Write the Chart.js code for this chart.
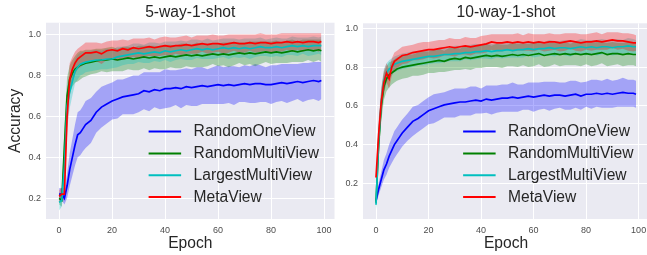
<!DOCTYPE html>
<html>
<head>
<meta charset="utf-8">
<script src="https://cdn.jsdelivr.net/npm/chart.js@4.4.0/dist/chart.umd.min.js"></script>
<style>
  html, body { margin: 0; padding: 0; background: #fff; overflow: hidden; }
  #wrap { position: relative; width: 647px; height: 255px; overflow: hidden; }
  canvas { position: absolute; top: 0; }
  #left { left: 0; }
  #right { left: 340px; }
</style>
</head>
<body>
<div id="wrap">
  <canvas id="left" width="340" height="255"></canvas>
  <canvas id="right" width="320" height="255"></canvas>
</div>
<script>
const EPOCHS = [0, 1, 2, 3, 4, 5, 6, 7, 8, 9, 10,
  12, 14, 16, 18, 20, 22, 24, 26, 28, 30,
  32, 34, 36, 38, 40, 42, 44, 46, 48, 50,
  52, 54, 56, 58, 60, 62, 64, 66, 68, 70,
  72, 74, 76, 78, 80, 82, 84, 86, 88, 90,
  92, 94, 96, 98, 99];
const SERIES_LABELS = ['RandomOneView', 'RandomMultiView', 'LargestMultiView', 'MetaView'];
const X_TICKS = [0, 20, 40, 60, 80, 100];
const Y_TICKS = [0.2, 0.4, 0.6, 0.8, 1.0];

// 5-way-1-shot: mean accuracy per epoch and half-width of the shaded band
const W5_ONE = [0.22, 0.22, 0.20, 0.26, 0.34, 0.40, 0.46, 0.51, 0.52, 0.54, 0.56,
  0.58, 0.62, 0.645, 0.66, 0.675, 0.685, 0.695, 0.70, 0.705, 0.71,
  0.725, 0.72, 0.73, 0.725, 0.735, 0.735, 0.74, 0.735, 0.745, 0.74,
  0.745, 0.75, 0.745, 0.75, 0.755, 0.75, 0.755, 0.75, 0.755, 0.76,
  0.755, 0.76, 0.76, 0.755, 0.755, 0.76, 0.765, 0.76, 0.765, 0.77,
  0.765, 0.77, 0.775, 0.77, 0.775];
const W5_ONE_SD = [0.03, 0.03, 0.03, 0.06, 0.08, 0.09, 0.10, 0.11, 0.11, 0.11, 0.115,
  0.11, 0.10, 0.10, 0.095, 0.09, 0.095, 0.085, 0.09, 0.095, 0.09,
  0.09, 0.095, 0.085, 0.09, 0.095, 0.09, 0.085, 0.095, 0.09, 0.09,
  0.095, 0.09, 0.085, 0.09, 0.095, 0.09, 0.09, 0.095, 0.085, 0.09,
  0.09, 0.095, 0.09, 0.085, 0.095, 0.09, 0.09, 0.095, 0.09, 0.085,
  0.095, 0.09, 0.09, 0.095, 0.09];
const W5_MULTI = [0.20, 0.19, 0.45, 0.70, 0.78, 0.81, 0.83, 0.84, 0.85, 0.855, 0.86,
  0.865, 0.87, 0.875, 0.875, 0.88, 0.875, 0.88, 0.885, 0.88, 0.885,
  0.89, 0.885, 0.89, 0.885, 0.89, 0.895, 0.89, 0.895, 0.90, 0.895,
  0.90, 0.895, 0.90, 0.905, 0.90, 0.905, 0.90, 0.905, 0.91, 0.905,
  0.91, 0.905, 0.91, 0.915, 0.91, 0.915, 0.91, 0.915, 0.92, 0.915,
  0.92, 0.925, 0.92, 0.925, 0.92];
const W5_MULTI_SD = [0.03, 0.03, 0.10, 0.09, 0.07, 0.065, 0.065, 0.07, 0.07, 0.065, 0.065,
  0.06, 0.06, 0.055, 0.06, 0.06, 0.055, 0.06, 0.055, 0.055, 0.06,
  0.055, 0.06, 0.055, 0.055, 0.06, 0.055, 0.055, 0.06, 0.055, 0.055,
  0.06, 0.055, 0.055, 0.05, 0.055, 0.055, 0.06, 0.055, 0.05, 0.055,
  0.055, 0.06, 0.055, 0.05, 0.055, 0.055, 0.05, 0.055, 0.055, 0.05,
  0.055, 0.05, 0.055, 0.05, 0.055];
const W5_LARGE = [0.18, 0.19, 0.35, 0.65, 0.72, 0.77, 0.82, 0.84, 0.855, 0.86, 0.865,
  0.87, 0.875, 0.875, 0.88, 0.88, 0.89, 0.895, 0.90, 0.905, 0.91,
  0.905, 0.91, 0.915, 0.91, 0.92, 0.915, 0.92, 0.925, 0.92, 0.925,
  0.93, 0.925, 0.93, 0.925, 0.93, 0.935, 0.93, 0.935, 0.93, 0.935,
  0.93, 0.935, 0.94, 0.935, 0.935, 0.94, 0.935, 0.94, 0.945, 0.94,
  0.945, 0.94, 0.945, 0.945, 0.945];
const W5_LARGE_SD = [0.04, 0.03, 0.10, 0.10, 0.08, 0.07, 0.06, 0.06, 0.055, 0.055, 0.05,
  0.05, 0.05, 0.045, 0.05, 0.045, 0.05, 0.045, 0.045, 0.05, 0.045,
  0.045, 0.05, 0.045, 0.045, 0.045, 0.05, 0.045, 0.045, 0.045, 0.05,
  0.045, 0.045, 0.05, 0.045, 0.045, 0.045, 0.05, 0.045, 0.045, 0.045,
  0.05, 0.045, 0.045, 0.04, 0.045, 0.045, 0.045, 0.04, 0.045, 0.045,
  0.04, 0.045, 0.045, 0.04, 0.045];
const W5_META = [0.21, 0.22, 0.22, 0.60, 0.78, 0.83, 0.86, 0.88, 0.89, 0.90, 0.91,
  0.91, 0.915, 0.905, 0.92, 0.925, 0.92, 0.93, 0.925, 0.935, 0.93,
  0.935, 0.94, 0.935, 0.94, 0.945, 0.94, 0.945, 0.945, 0.95, 0.945,
  0.95, 0.955, 0.95, 0.955, 0.955, 0.95, 0.955, 0.96, 0.955, 0.955,
  0.96, 0.955, 0.96, 0.96, 0.955, 0.96, 0.96, 0.965, 0.96, 0.965,
  0.96, 0.965, 0.965, 0.96, 0.965];
const W5_META_SD = [0.03, 0.03, 0.03, 0.10, 0.08, 0.06, 0.055, 0.05, 0.05, 0.05, 0.05,
  0.05, 0.045, 0.05, 0.045, 0.045, 0.05, 0.045, 0.045, 0.045, 0.05,
  0.045, 0.045, 0.04, 0.045, 0.045, 0.045, 0.04, 0.045, 0.045, 0.04,
  0.045, 0.04, 0.045, 0.045, 0.04, 0.045, 0.045, 0.04, 0.045, 0.045,
  0.04, 0.045, 0.045, 0.04, 0.045, 0.04, 0.045, 0.04, 0.045, 0.04,
  0.045, 0.04, 0.04, 0.045, 0.04];

// 10-way-1-shot
const W10_ONE = [0.11, 0.17, 0.22, 0.27, 0.30, 0.34, 0.37, 0.40, 0.42, 0.44, 0.46,
  0.49, 0.52, 0.535, 0.555, 0.575, 0.585, 0.595, 0.605, 0.61, 0.615,
  0.62, 0.62, 0.625, 0.63, 0.625, 0.635, 0.63, 0.635, 0.64, 0.64,
  0.645, 0.64, 0.645, 0.65, 0.645, 0.65, 0.655, 0.65, 0.655, 0.655,
  0.65, 0.655, 0.66, 0.65, 0.66, 0.66, 0.665, 0.66, 0.665, 0.66,
  0.665, 0.67, 0.665, 0.665, 0.66];
const W10_ONE_SD = [0.02, 0.03, 0.04, 0.05, 0.055, 0.06, 0.065, 0.07, 0.07, 0.07, 0.07,
  0.07, 0.075, 0.07, 0.07, 0.07, 0.075, 0.07, 0.065, 0.07, 0.075,
  0.07, 0.07, 0.075, 0.07, 0.065, 0.07, 0.075, 0.07, 0.07, 0.07,
  0.075, 0.07, 0.065, 0.07, 0.075, 0.07, 0.07, 0.075, 0.07, 0.065,
  0.07, 0.075, 0.07, 0.07, 0.065, 0.075, 0.07, 0.07, 0.075, 0.07,
  0.07, 0.075, 0.07, 0.07, 0.07];
const W10_MULTI = [0.10, 0.40, 0.60, 0.70, 0.74, 0.76, 0.77, 0.78, 0.79, 0.795, 0.80,
  0.805, 0.81, 0.815, 0.82, 0.825, 0.83, 0.835, 0.83, 0.84, 0.845,
  0.84, 0.85, 0.845, 0.85, 0.855, 0.86, 0.855, 0.86, 0.855, 0.86,
  0.865, 0.86, 0.865, 0.86, 0.865, 0.87, 0.86, 0.865, 0.87, 0.865,
  0.87, 0.865, 0.87, 0.865, 0.87, 0.865, 0.87, 0.875, 0.865, 0.87,
  0.87, 0.865, 0.87, 0.865, 0.865];
const W10_MULTI_SD = [0.03, 0.08, 0.08, 0.07, 0.065, 0.065, 0.06, 0.06, 0.06, 0.06, 0.06,
  0.06, 0.055, 0.06, 0.06, 0.055, 0.06, 0.06, 0.055, 0.06, 0.06,
  0.055, 0.06, 0.06, 0.055, 0.06, 0.06, 0.055, 0.06, 0.06, 0.055,
  0.06, 0.06, 0.055, 0.06, 0.06, 0.055, 0.06, 0.06, 0.055, 0.06,
  0.06, 0.055, 0.06, 0.06, 0.055, 0.06, 0.06, 0.055, 0.06, 0.06,
  0.055, 0.06, 0.06, 0.055, 0.06];
const W10_LARGE = [0.09, 0.42, 0.62, 0.73, 0.77, 0.79, 0.80, 0.815, 0.82, 0.825, 0.83,
  0.835, 0.84, 0.845, 0.85, 0.855, 0.855, 0.86, 0.865, 0.865, 0.87,
  0.87, 0.875, 0.875, 0.88, 0.88, 0.885, 0.88, 0.885, 0.885, 0.89,
  0.885, 0.89, 0.89, 0.895, 0.89, 0.895, 0.895, 0.90, 0.895, 0.90,
  0.90, 0.895, 0.90, 0.905, 0.90, 0.905, 0.90, 0.905, 0.905, 0.90,
  0.905, 0.905, 0.91, 0.905, 0.905];
const W10_LARGE_SD = [0.03, 0.08, 0.07, 0.06, 0.05, 0.045, 0.045, 0.04, 0.04, 0.04, 0.04,
  0.04, 0.04, 0.035, 0.04, 0.04, 0.035, 0.04, 0.04, 0.035, 0.04,
  0.04, 0.035, 0.04, 0.04, 0.035, 0.04, 0.04, 0.035, 0.04, 0.04,
  0.035, 0.04, 0.04, 0.035, 0.04, 0.04, 0.035, 0.04, 0.04, 0.035,
  0.04, 0.04, 0.035, 0.04, 0.04, 0.035, 0.04, 0.04, 0.035, 0.04,
  0.04, 0.035, 0.04, 0.04, 0.035];
const W10_META = [0.23, 0.45, 0.62, 0.72, 0.77, 0.74, 0.80, 0.83, 0.84, 0.85, 0.86,
  0.865, 0.875, 0.88, 0.885, 0.89, 0.89, 0.895, 0.90, 0.905, 0.90,
  0.905, 0.91, 0.905, 0.91, 0.915, 0.92, 0.93, 0.925, 0.925, 0.93,
  0.925, 0.93, 0.925, 0.93, 0.925, 0.93, 0.925, 0.93, 0.93, 0.925,
  0.93, 0.935, 0.93, 0.925, 0.93, 0.93, 0.935, 0.93, 0.935, 0.94,
  0.935, 0.935, 0.93, 0.925, 0.925];
const W10_META_SD = [0.03, 0.08, 0.07, 0.06, 0.05, 0.05, 0.045, 0.045, 0.045, 0.045, 0.045,
  0.045, 0.04, 0.045, 0.045, 0.04, 0.045, 0.045, 0.04, 0.045, 0.045,
  0.04, 0.045, 0.045, 0.04, 0.045, 0.045, 0.04, 0.045, 0.045, 0.04,
  0.045, 0.045, 0.04, 0.045, 0.045, 0.04, 0.045, 0.045, 0.04, 0.045,
  0.045, 0.04, 0.045, 0.045, 0.04, 0.045, 0.045, 0.04, 0.045, 0.04,
  0.045, 0.04, 0.045, 0.045, 0.04];

const LINE_COLORS = ['#0000ff', '#008000', '#00bfbf', '#ff0000'];
const BAND_COLORS = ['rgba(0,0,255,0.3)', 'rgba(0,128,0,0.3)', 'rgba(0,191,191,0.3)', 'rgba(255,0,0,0.3)'];
const FONT = '"Liberation Sans", Arial, Helvetica, sans-serif';
const TEXT = '#262626';

Chart.defaults.font.family = FONT;

const plotBg = {
  id: 'plotBg',
  beforeDraw(chart) {
    const { ctx, chartArea: a } = chart;
    ctx.save();
    ctx.fillStyle = '#eaeaf2';
    ctx.fillRect(a.left, a.top, a.right - a.left, a.bottom - a.top);
    ctx.restore();
  },
};

// matplotlib-style legend: no frame, lower right inside the axes
const innerLegend = {
  id: 'innerLegend',
  afterDraw(chart) {
    const { ctx, chartArea: a } = chart;
    ctx.save();
    ctx.font = '15.6px ' + FONT;
    const maxW = Math.max(...SERIES_LABELS.map(t => ctx.measureText(t).width));
    const textX = a.right - 15.5 - maxW;
    const lineEnd = textX - 12.5;
    const lineStart = lineEnd - 32.5;
    ctx.textBaseline = 'middle';
    ctx.textAlign = 'left';
    SERIES_LABELS.forEach((label, i) => {
      const y = a.bottom - 22 - (SERIES_LABELS.length - 1 - i) * 21.8;
      ctx.strokeStyle = LINE_COLORS[i];
      ctx.lineWidth = 2;
      ctx.beginPath();
      ctx.moveTo(lineStart, y);
      ctx.lineTo(lineEnd, y);
      ctx.stroke();
      ctx.fillStyle = TEXT;
      ctx.fillText(label, textX, y + 0.5);
    });
    ctx.restore();
  },
};

function buildDatasets(means, spreads) {
  const sets = [];
  means.forEach((m, i) => {
    sets.push({
      data: EPOCHS.map((e, j) => ({ x: e, y: m[j] + spreads[i][j] })),
      borderColor: 'rgba(0,0,0,0)', borderWidth: 1, pointRadius: 0, fill: false, order: 30 - i,
    });
    sets.push({
      data: EPOCHS.map((e, j) => ({ x: e, y: m[j] - spreads[i][j] })),
      borderColor: 'rgba(0,0,0,0)', borderWidth: 1, pointRadius: 0,
      fill: sets.length - 1, backgroundColor: BAND_COLORS[i], order: 30 - i,
    });
  });
  means.forEach((m, i) => {
    sets.push({
      label: SERIES_LABELS[i],
      data: EPOCHS.map((e, j) => ({ x: e, y: m[j] })),
      borderColor: LINE_COLORS[i], borderWidth: 1.7, pointRadius: 0, fill: false, order: 10 - i,
    });
  });
  return sets;
}

function makeChart(id, cfg) {
  return new Chart(document.getElementById(id), {
    type: 'line',
    data: { datasets: buildDatasets(cfg.means, cfg.spreads) },
    plugins: [plotBg, innerLegend],
    options: {
      responsive: false,
      animation: false,
      events: [],
      layout: { padding: { left: 0, right: cfg.padRight, top: 0, bottom: 0 } },
      elements: { line: { tension: 0 } },
      plugins: {
        legend: { display: false },
        tooltip: { enabled: false },
        title: {
          display: true, text: cfg.title, color: TEXT, fullSize: false,
          font: { size: 15.6, weight: 'normal' }, padding: { top: 3, bottom: cfg.titleGap },
        },
      },
      scales: {
        x: {
          type: 'linear', min: -4.95, max: 103.95,
          afterBuildTicks: s => { s.ticks = X_TICKS.map(v => ({ value: v })); },
          afterFit: s => { s.height = 36; },
          grid: { color: '#ffffff', lineWidth: 1, drawTicks: false },
          border: { display: false },
          ticks: { color: '#4d4d4d', font: { size: 9 }, padding: 6, callback: v => String(v) },
          title: {
            display: true, text: 'Epoch', color: TEXT,
            font: { size: 15.6 }, padding: { top: 0, bottom: 1.5 },
          },
        },
        y: {
          min: cfg.yMin, max: cfg.yMax,
          afterBuildTicks: s => { s.ticks = Y_TICKS.map(v => ({ value: v })); },
          afterFit: s => { s.width = cfg.yWidth; },
          grid: { color: '#ffffff', lineWidth: 1, drawTicks: false },
          border: { display: false },
          ticks: { color: '#4d4d4d', font: { size: 9 }, padding: 5, callback: v => v.toFixed(1) },
          title: {
            display: cfg.yTitle, text: 'Accuracy', color: TEXT,
            font: { size: 15.6 }, padding: { top: 6, bottom: 0 },
          },
        },
      },
    },
  });
}

makeChart('left', {
  title: '5-way-1-shot',
  means: [W5_ONE, W5_MULTI, W5_LARGE, W5_META],
  spreads: [W5_ONE_SD, W5_MULTI_SD, W5_LARGE_SD, W5_META_SD],
  yMin: 0.099, yMax: 1.057, yWidth: 46, padRight: 5.5, yTitle: true, titleGap: 1,
});

makeChart('right', {
  title: '10-way-1-shot',
  means: [W10_ONE, W10_MULTI, W10_LARGE, W10_META],
  spreads: [W10_ONE_SD, W10_MULTI_SD, W10_LARGE_SD, W10_META_SD],
  yMin: 0.016, yMax: 1.026, yWidth: 23, padRight: 11, yTitle: false, titleGap: 1.6,
});
</script>
</body>
</html>
